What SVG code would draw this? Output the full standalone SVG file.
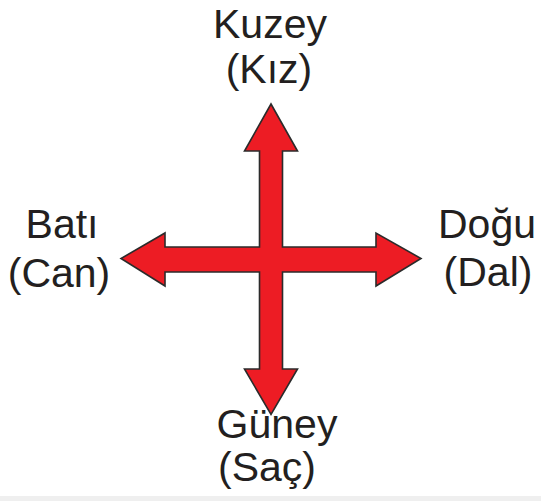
<svg xmlns="http://www.w3.org/2000/svg" width="541" height="501" viewBox="0 0 541 501">
<style>
.lbl{font-family:"Liberation Sans",Arial,sans-serif;font-size:41px;fill:#231f20;text-anchor:middle}
.arrow{fill:#ed1c24;stroke:#2b2b2b;stroke-width:1.6;stroke-linejoin:miter}
</style>
<rect width="541" height="501" fill="#ffffff"/>
<rect x="0" y="496" width="541" height="5" fill="#efefef"/>
<g id="connectors">
<polygon class="arrow" points="271,104 297.5,151 282.5,151 282.5,247 376,247 376,233 421,258.5 376,286 376,272 282.5,272 282.5,369 297.5,369 271,414.5 244.5,369 259.5,369 259.5,272 165,272 165,286 121,258.5 165,233 165,247 259.5,247 259.5,151 244.5,151"/>
</g>
<g id="north">
<text class="lbl" x="270" y="38">Kuzey</text>
<text class="lbl" x="269" y="83">(Kız)</text>
</g>
<g id="west">
<text class="lbl" x="62" y="238">Batı</text>
<text class="lbl" x="59" y="287">(Can)</text>
</g>
<g id="east">
<text class="lbl" x="487" y="238">Doğu</text>
<text class="lbl" x="488" y="286">(Dal)</text>
</g>
<g id="south">
<text class="lbl" x="277" y="438">Güney</text>
<text class="lbl" x="267" y="481">(Saç)</text>
</g>
</svg>
